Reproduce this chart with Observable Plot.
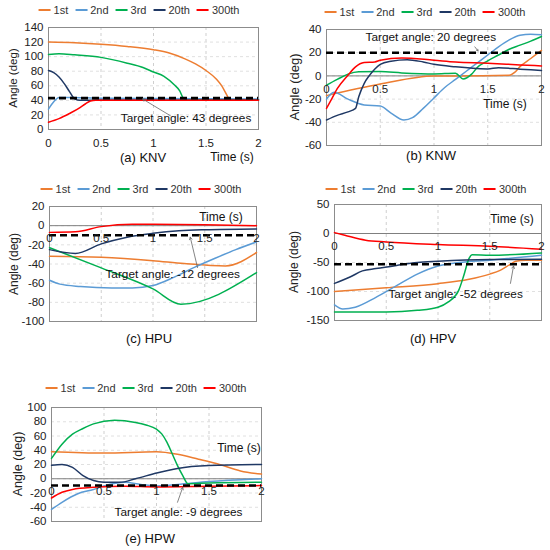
<!DOCTYPE html>
<html><head><meta charset="utf-8">
<script src="https://cdn.jsdelivr.net/npm/d3@7"></script>
<script src="https://cdn.jsdelivr.net/npm/@observablehq/plot@0.6"></script>
<style>
body{margin:0;background:#fff;font-family:"Liberation Sans",Arial,sans-serif;}
#root{position:relative;width:550px;height:550px;overflow:hidden;}
.p{position:absolute;}
.leg{position:absolute;display:flex;align-items:center;font-size:11px;color:#333;transform:translate(-50%,-50%);white-space:nowrap}
.leg .it{display:flex;align-items:center;margin-right:7px}
.leg .it:last-child{margin-right:0}
.leg .sw{width:12px;height:2px;margin-right:3px}
.cap{position:absolute;font-size:13px;color:#111;transform:translate(-50%,-50%);white-space:nowrap}
.tm{position:absolute;font-size:12px;color:#111;transform:translate(-50%,-50%);white-space:nowrap}
.yl{position:absolute;color:#222;transform:translate(-50%,-50%) rotate(-90deg);white-space:nowrap}
</style></head>
<body><div id="root"></div>
<script>
// ---------- data ----------
const seriesNames = ["1st", "2nd", "3rd", "20th", "300th"];
const seriesColors = ["#ed7d31", "#5b9bd5", "#00b050", "#1f3864", "#ff0000"];
const xTicks = [0, 0.5, 1, 1.5, 2];
const panelNames = ["(a) KNV", "(b) KNW", "(c) HPU", "(d) HPV", "(e) HPW"];
const targetAngles = [43, 20, -12, -52, -9];
const targetLine = [43, 20, -10, -53, -9.5];

// (a) KNV
const knv1st = [[0,120],[0.25,119],[0.5,117],[0.75,114],[1,109.5],[1.15,105],[1.3,97],[1.4,90],[1.5,81],[1.6,69],[1.65,60],[1.7,47],[1.72,42],[1.8,41],[2,41]];
const knv2nd = [[0,28],[0.05,38],[0.1,44],[0.2,44],[0.5,43],[2,42]];
const knv3rd = [[0,103],[0.1,104],[0.25,102.5],[0.5,99],[0.75,91],[0.9,85],[1,79],[1.1,73],[1.2,61],[1.25,53],[1.28,44],[1.32,41],[1.4,41],[2,41]];
const knv20th = [[0,81],[0.05,78],[0.1,72],[0.15,63],[0.2,52],[0.25,42],[0.3,40],[0.5,40.5],[2,40.5]];
const knv300th = [[0,10],[0.1,15],[0.2,22],[0.3,30],[0.35,35],[0.4,39],[0.45,40],[2,40]];

// (b) KNW
const knw1st = [[0,-17],[0.5,-7],[1,0],[1.2,0],[1.7,0.5],[1.75,3],[1.8,8],[1.9,15],[2,22]];
const knw2nd = [[0,-20],[0.07,-14],[0.2,-20],[0.35,-25],[0.5,-26],[0.6,-32],[0.72,-38],[0.8,-36],[0.9,-28],[1,-19],[1.1,-10],[1.2,-3],[1.3,4],[1.4,11],[1.5,18],[1.6,25],[1.7,31],[1.8,35],[1.9,36],[2,35.5]];
const knw3rd = [[0,-8],[0.1,-3],[0.2,1.5],[0.3,3.5],[0.5,3.7],[0.7,2.6],[1,1.7],[1.2,2.3],[1.27,-2.6],[1.35,1.5],[1.4,7],[1.5,13],[1.6,18],[1.7,23],[1.8,26.5],[1.9,30],[2,34]];
const knw20th = [[0,-38],[0.1,-34],[0.2,-31],[0.27,-28],[0.3,-18],[0.35,-6.6],[0.4,0.5],[0.45,6],[0.5,10],[0.6,12.7],[0.75,14],[0.9,12],[1,10],[1.2,7.8],[1.4,6.3],[1.5,6],[1.6,7],[1.8,5.8],[2,4.6]];
const knw300th = [[0,-28],[0.05,-19.6],[0.1,-11],[0.2,0.6],[0.27,7.8],[0.35,11.5],[0.45,12],[0.5,13.5],[0.7,15.5],[1,13.5],[1.2,12],[1.5,11],[1.8,9.5],[2,8.6]];

// (c) HPU
const hpu1st = [[0,-32],[0.5,-33],[1,-36.5],[1.3,-39.5],[1.7,-42],[2,-28]];
const hpu2nd = [[0,-57],[0.1,-61],[0.3,-63.5],[0.6,-65],[0.8,-65],[1,-62.5],[1.2,-54],[1.4,-43.5],[1.6,-34],[1.8,-25],[2,-17]];
const hpu3rd = [[0,-23],[0.5,-44],[1,-66],[1.27,-82],[2,-49]];
const hpu20th = [[0,-25],[0.25,-29],[0.5,-19],[0.75,-12],[1,-8],[1.25,-5.4],[1.5,-4.3],[2,-3.5]];
const hpu300th = [[0,-7],[0.25,-6.4],[0.5,-1],[0.8,1.5],[1,1.5],[1.5,1],[2,0]];

// (d) HPV
const hpv1st = [[0,-100],[0.5,-93.5],[1,-86.5],[1.3,-79],[1.5,-70],[1.6,-63.5],[1.7,-53],[1.75,-48],[1.85,-46],[2,-46]];
const hpv2nd = [[0,-123],[0.08,-130],[0.2,-127],[0.4,-110],[0.6,-90],[0.8,-70],[1,-56],[1.2,-50],[1.5,-46],[2,-37.5]];
const hpv3rd = [[0,-135.5],[0.5,-135.5],[0.8,-132.5],[1,-127],[1.1,-118],[1.2,-98],[1.25,-72],[1.3,-43],[1.33,-36.5],[1.5,-37.5],[2,-33.5]];
const hpv20th = [[0,-86],[0.15,-75],[0.27,-64.5],[0.4,-60.5],[0.6,-55],[0.8,-50],[1,-48],[1.5,-45],[2,-44.4]];
const hpv300th = [[0,1.5],[0.1,-3],[0.3,-11.5],[0.5,-14.5],[1,-19],[1.5,-22],[2,-27]];

// (e) HPW
const hpw1st = [[0,38],[0.5,36],[1,38],[1.2,34.5],[1.4,27.5],[1.6,20],[1.8,11],[2,6.5]];
const hpw2nd = [[0,-43],[0.1,-33],[0.25,-21],[0.4,-15],[0.5,-10],[0.7,-5],[0.85,-8],[1,-10],[1.2,-8],[1.5,-4],[2,0]];
const hpw3rd = [[0,28.5],[0.1,48.5],[0.2,62.5],[0.3,70.5],[0.4,77],[0.6,82],[0.8,79],[0.9,75.5],[1,69.5],[1.05,63],[1.1,51],[1.15,35],[1.2,18.5],[1.25,4.5],[1.3,-7],[1.5,-6],[2,-5]];
const hpw20th = [[0,19],[0.1,20],[0.2,16],[0.3,4.5],[0.4,-2.5],[0.5,-5],[0.65,-5],[0.8,0],[1,8],[1.2,14.5],[1.5,18.5],[2,20]];
const hpw300th = [[0,-27],[0.1,-19],[0.2,-15],[0.4,-12],[0.7,-10.5],[1,-11.5],[1.5,-10.5],[2,-9.6]];

const yDomains = [[0,140],[-60,40],[-100,20],[-150,50],[-60,100]];
const yTickSets = [[0,20,40,60,80,100,120,140],[-60,-40,-20,0,20,40],[-100,-80,-60,-40,-20,0,20],[-150,-100,-50,0,50],[-60,-40,-20,0,20,40,60,80,100]];
// annotation anchors (data coordinates): label centre, arrow start, arrow end
const noteLabel = [[1.31,15],[0.97,33],[1.19,-51],[1.17,-105],[1.21,-47]];
const noteArrowFrom = [[1.16,19],[1.38,25],[1.43,-43.7],[1.70,-86],[1.20,-33]];
const noteArrowTo = [[0.895,42],[1.41,21.5],[1.36,-12],[1.73,-56],[1.25,-12]];

// ---------- layout ----------
const layout = [
  {left:0, top:20, width:270, height:128, ml:48, mr:12, mt:7, mb:19, tickDy:14,
   leg:[139,10], yl:[12.5,78,11.5], cap:[143,157], tm:[232,157]},
  {left:275, top:20, width:275, height:135, ml:51, mr:9, mt:9, mb:10, tickDy:13,
   leg:[425,12], yl:[294,87,13], cap:[431,155], tm:[505,104]},
  {left:0, top:196, width:270, height:130, ml:49, mr:14, mt:10, mb:5, tickDy:13,
   leg:[141,189], yl:[14,263.5,12], cap:[149,338], tm:[221,217]},
  {left:275, top:194, width:275, height:131, ml:59, mr:9, mt:10, mb:5, tickDy:13,
   leg:[426,189], yl:[294,262,12], cap:[433,338], tm:[512,219]},
  {left:0, top:397, width:275, height:129, ml:51, mr:14, mt:10, mb:5, tickDy:13,
   leg:[146,388], yl:[18,464,12.5], cap:[150,538], tm:[239,448]}
];

const allSeries = [
  [knv1st, knv2nd, knv3rd, knv20th, knv300th],
  [knw1st, knw2nd, knw3rd, knw20th, knw300th],
  [hpu1st, hpu2nd, hpu3rd, hpu20th, hpu300th],
  [hpv1st, hpv2nd, hpv3rd, hpv20th, hpv300th],
  [hpw1st, hpw2nd, hpw3rd, hpw20th, hpw300th]
];

const root = document.getElementById("root");

function addDiv(cls, html, x, y, extra) {
  const d = document.createElement("div");
  d.className = cls;
  d.innerHTML = html;
  d.style.left = x + "px";
  d.style.top = y + "px";
  if (extra) Object.assign(d.style, extra);
  root.appendChild(d);
  return d;
}

allSeries.forEach((series, k) => {
  const L = layout[k];
  const rows = [];
  series.forEach((pts, i) => pts.forEach(([t, v]) => rows.push({t, v, s: seriesNames[i]})));
  const yTicks = yTickSets[k];
  const dom = yDomains[k];
  const marks = [
    Plot.ruleX(xTicks.slice(1, -1), {stroke: "#cfcfcf", strokeDasharray: "3,3"}),
    Plot.ruleY(yTicks.slice(1, -1), {stroke: "#e0e0e0", strokeDasharray: "3,3"})
  ];
  if (dom[0] < 0) marks.push(Plot.ruleY([0], {stroke: "#7f7f7f", strokeWidth: 1}));
  marks.push(Plot.frame({stroke: "#8c8c8c"}));
  marks.push(Plot.line(rows, {x: "t", y: "v", stroke: "s", curve: "monotone-x", strokeWidth: 1.5}));
  marks.push(Plot.ruleY([targetLine[k]], {stroke: "#000", strokeWidth: 2.6, strokeDasharray: "7,4"}));
  marks.push(Plot.text(xTicks, {x: d => d, y: 0, dy: L.tickDy, text: d => String(d), fontSize: 11.5, fill: "#222"}));
  marks.push(Plot.arrow([0], {
    x1: () => noteArrowFrom[k][0], y1: () => noteArrowFrom[k][1],
    x2: () => noteArrowTo[k][0], y2: () => noteArrowTo[k][1],
    stroke: "#666", strokeWidth: 0.8, headLength: 5
  }));
  marks.push(Plot.text([`Target angle: ${targetAngles[k]} degrees`], {
    x: () => noteLabel[k][0], y: () => noteLabel[k][1], text: d => d, fontSize: 11.8, fill: "#111"
  }));
  const chart = Plot.plot({
    width: L.width, height: L.height,
    marginLeft: L.ml, marginRight: L.mr, marginTop: L.mt, marginBottom: L.mb,
    style: {fontFamily: "'Liberation Sans', Arial, sans-serif", fontSize: "11.5px", color: "#222", background: "transparent", overflow: "visible"},
    x: {domain: [0, 2], axis: null},
    y: {domain: dom, ticks: yTicks, tickSize: 0, tickPadding: 5, label: null, tickFormat: d => String(d)},
    color: {domain: seriesNames, range: seriesColors},
    marks
  });
  chart.classList.add("p");
  chart.style.left = L.left + "px";
  chart.style.top = L.top + "px";
  root.appendChild(chart);

  // legend
  const legHtml = seriesNames.map((n, i) =>
    `<div class="it"><div class="sw" style="background:${seriesColors[i]}"></div>${n}</div>`).join("");
  addDiv("leg", legHtml, L.leg[0], L.leg[1]);
  // y label
  addDiv("yl", "Angle (deg)", L.yl[0], L.yl[1], {fontSize: L.yl[2] + "px"});
  // caption + time label
  addDiv("cap", panelNames[k], L.cap[0], L.cap[1]);
  addDiv("tm", "Time (s)", L.tm[0], L.tm[1]);
});
</script>
</body></html>
